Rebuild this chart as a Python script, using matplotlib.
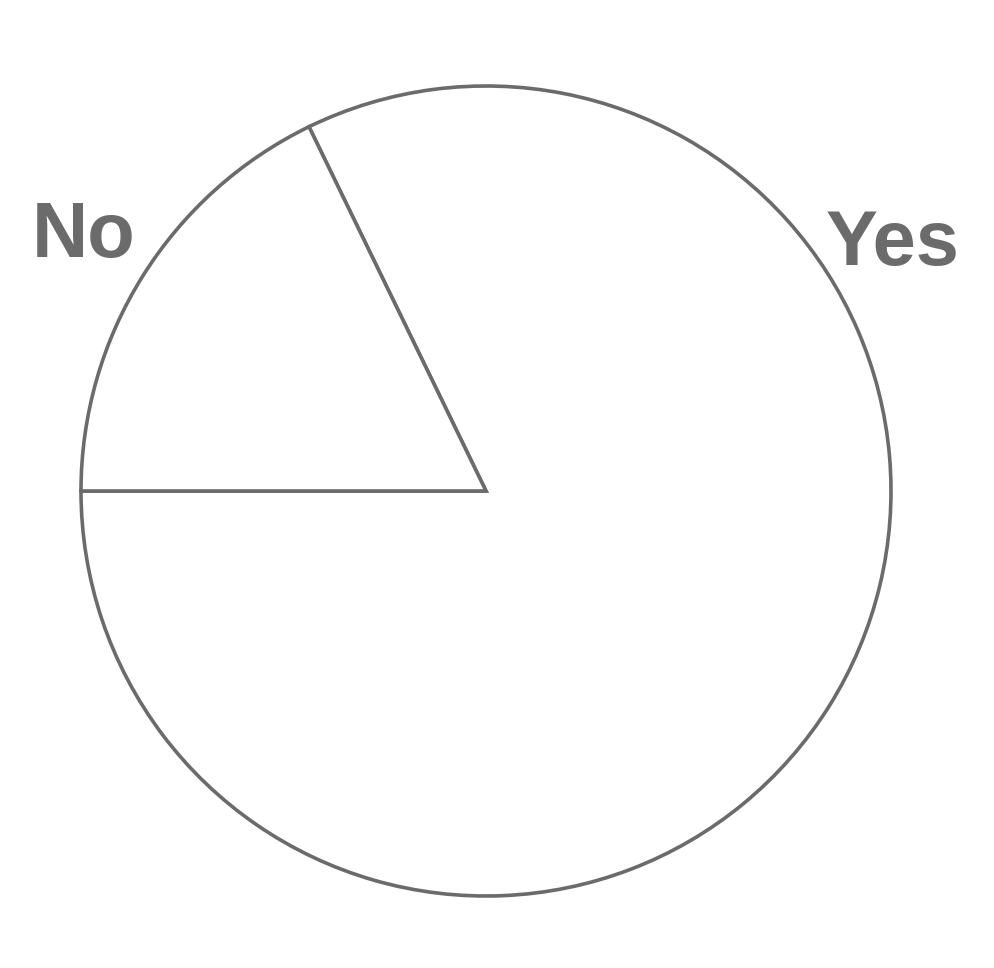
import matplotlib.pyplot as plt

labels = ["Yes", "No"]
values = [82.2, 17.8]

gris = "#6b6b6b"

fig = plt.figure(figsize=(9.95, 9.68), dpi=100)
ax = fig.add_axes([0, 0, 1, 1])

ax.pie(values, startangle=180, counterclock=True,
       colors=["white", "white"],
       wedgeprops=dict(edgecolor=gris, linewidth=2.6))

# etiquetas colocadas a mano (como en el original)
pos_labels = {"No": (-0.994, 0.578), "Yes": (1.005, 0.558)}
for lab in labels:
    x, y = pos_labels[lab]
    ax.text(x, y, lab, ha="center", va="baseline", fontsize=56,
            fontweight="bold", color=gris, family="Liberation Sans")

# centro en (486, 491) px, radio 405 px
r = 405
ax.set_aspect("auto")
ax.set_xlim(-486 / r, (995 - 486) / r)
ax.set_ylim(-(968 - 491) / r, 491 / r)
ax.axis("off")

plt.savefig("out.png", dpi=100)
